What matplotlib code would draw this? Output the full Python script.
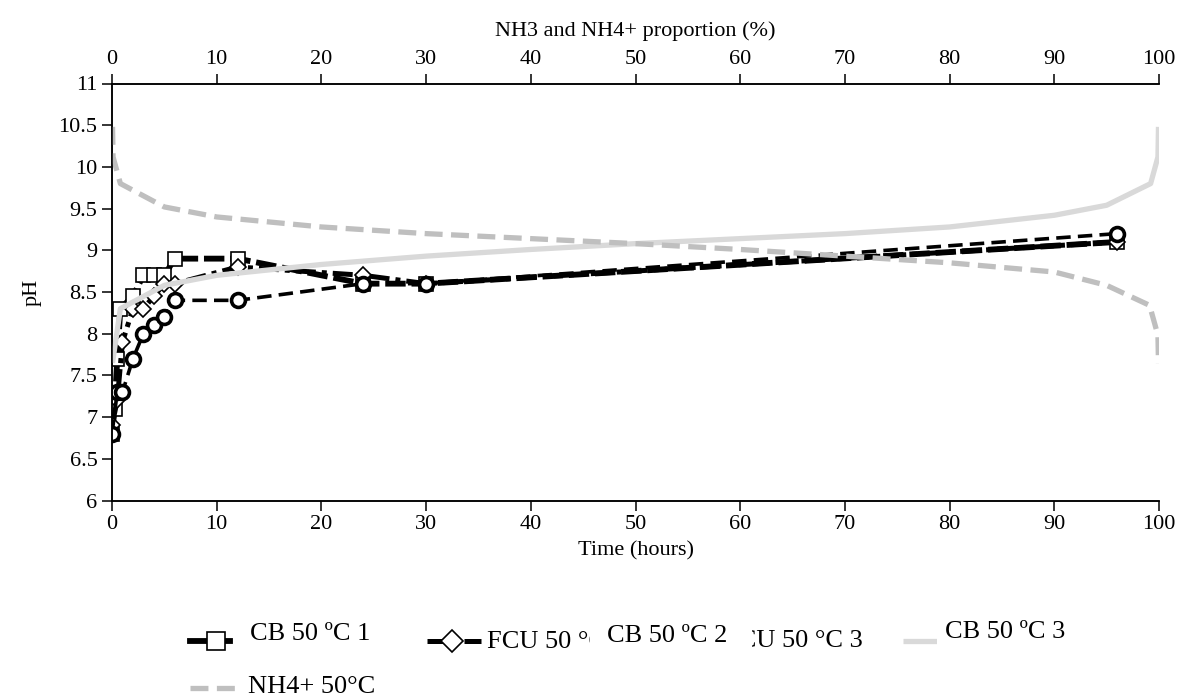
import matplotlib
matplotlib.use('Agg')
import matplotlib.pyplot as plt
from matplotlib.lines import Line2D
from matplotlib.patches import Rectangle

plt.rcParams.update({
    'font.family': 'Liberation Serif',
    'font.size': 16,
    'axes.linewidth': 1.1,
})

# ---- data ----
time_cb1 = [0, 0.25, 0.5, 0.8, 2, 3, 4, 5, 6, 12, 24, 30, 96]
ph_cb1 = [6.8, 7.1, 7.7, 8.3, 8.45, 8.7, 8.7, 8.7, 8.9, 8.9, 8.6, 8.6, 9.1]

time_fcu2 = [0, 0.5, 1, 2, 3, 4, 5, 6, 12, 24, 30, 96]
ph_fcu2 = [6.9, 7.2, 7.9, 8.3, 8.3, 8.45, 8.6, 8.6, 8.8, 8.7, 8.6, 9.1]

time_cb3 = [0, 0.5, 1, 2, 3, 4, 5, 6, 12, 24, 30, 96]
ph_cb3 = [6.8, 7.3, 7.3, 7.7, 8.0, 8.1, 8.2, 8.4, 8.4, 8.6, 8.6, 9.2]

nh3_pct = [0.05, 0.8, 5, 10, 20, 30, 40, 50, 60, 70, 80, 90, 95, 99.2, 99.9, 99.95]
ph_nh3 = [7.65, 8.3, 8.58, 8.7, 8.83, 8.93, 9.01, 9.08, 9.14, 9.2, 9.28, 9.42, 9.54, 9.8, 10.12, 10.48]

nh4_pct = [0.05, 0.1, 0.8, 5, 10, 20, 30, 40, 50, 60, 70, 80, 90, 95, 99.1, 99.9, 99.95]
ph_nh4 = [10.48, 10.12, 9.8, 9.52, 9.4, 9.28, 9.2, 9.14, 9.08, 9.01, 8.93, 8.85, 8.74, 8.58, 8.34, 7.98, 7.64]

W, H = 1185, 698
fig = plt.figure(figsize=(W / 100, H / 100), dpi=100)
ax = fig.add_axes([112 / W, 1 - 500.5 / H, 1047 / W, 417 / H])

sq_line = dict(color='black', lw=4.2, dashes=(3.5, 1.0))
sq_mark = dict(marker='s', ms=10, mfc='white', mec='black', mew=1.2)
di_line = dict(color='black', lw=3.6, dashes=(4, 1.2, 1, 1.2))
di_mark = dict(marker='D', ms=8, mfc='white', mec='black', mew=1.2)
ci_line = dict(color='black', lw=2.6, dashes=(4, 2))
ci_mark = dict(marker='o', ms=10, mfc='white', mec='black', mew=2.6)

ax.plot(time_cb1, ph_cb1, **sq_line, **sq_mark)
ax.plot(time_fcu2, ph_fcu2, **di_line, **di_mark)
ax.plot(time_cb3, ph_cb3, **ci_line, **ci_mark)

ax.set_xlim(0, 100)
ax.set_ylim(6, 11)
ax.set_xticks(range(0, 101, 10))
ax.set_yticks([6, 6.5, 7, 7.5, 8, 8.5, 9, 9.5, 10, 10.5, 11])
ax.set_yticklabels(['6', '6.5', '7', '7.5', '8', '8.5', '9', '9.5', '10', '10.5', '11'])
ax.tick_params(direction='out', length=7, width=1.1, labelsize=16)
ax.spines['right'].set_visible(False)
ax.set_xlabel('Time (hours)', fontsize=16, labelpad=5)
ax.set_ylabel('pH', fontsize=16, labelpad=12)

ax2 = ax.twiny()
ax2.plot(nh3_pct, ph_nh3, color='#d9d9d9', lw=3.8, solid_capstyle='butt')
ax2.plot(nh4_pct, ph_nh4, color='#bfbfbf', lw=3.8, dashes=(3.4, 1.6))
ax2.set_xlim(0, 100)
ax2.set_xticks(range(0, 101, 10))
ax2.tick_params(direction='out', length=7, width=1.1, labelsize=16)
ax2.spines['right'].set_visible(False)
ax2.set_xlabel('NH3 and NH4+ proportion (%)', fontsize=16, labelpad=10)


# ---- legend drawn by hand (overlapping labels as in the original) ----
def fx(px):
    return px / W


def fy(py):
    return 1 - py / H


def handle(x0, x1, y, line, mark=None, xm=None):
    fig.add_artist(Line2D([fx(x0), fx(x1)], [fy(y), fy(y)], transform=fig.transFigure, **line))
    if mark is not None:
        fig.add_artist(Line2D([fx(xm)], [fy(y)], transform=fig.transFigure, ls='none', **mark))


LFS = 19
row1, row2 = 641, 688
handle(190, 230, row1, dict(color='black', lw=4.2), dict(sq_mark, ms=13), 215.5)
fig.text(fx(250), fy(640), 'CB 50 ºC 1', fontsize=LFS, va='baseline', ha='left')

handle(427, 481, row1, di_line, dict(di_mark, ms=11), 452)
fig.text(fx(487), fy(648), 'FCU 50 °C 2', fontsize=LFS, va='baseline', ha='left', zorder=1)
fig.text(fx(863), fy(647), 'FCU 50 °C 3', fontsize=LFS, va='baseline', ha='right', zorder=1)

fig.add_artist(Rectangle((fx(590), fy(664)), fx(752) - fx(590), fy(612) - fy(664),
                         transform=fig.transFigure, facecolor='white', edgecolor='none', zorder=5))
fig.text(fx(607), fy(642), 'CB 50 ºC 2', fontsize=LFS, va='baseline', ha='left', zorder=6)

handle(903, 940, row1, dict(color='#d9d9d9', lw=3.8, solid_capstyle='butt'))
fig.add_artist(Rectangle((fx(937), fy(664)), fx(1085) - fx(937), fy(610) - fy(664),
                         transform=fig.transFigure, facecolor='white', edgecolor='none', zorder=5))
fig.text(fx(945), fy(638), 'CB 50 ºC 3', fontsize=LFS, va='baseline', ha='left', zorder=6)

handle(190, 242, row2, dict(color='#bfbfbf', lw=3.8, dashes=(3.4, 1.6)))
fig.text(fx(248), fy(693), 'NH4+ 50°C', fontsize=LFS, va='baseline', ha='left')

fig.savefig('out.png', dpi=100)
